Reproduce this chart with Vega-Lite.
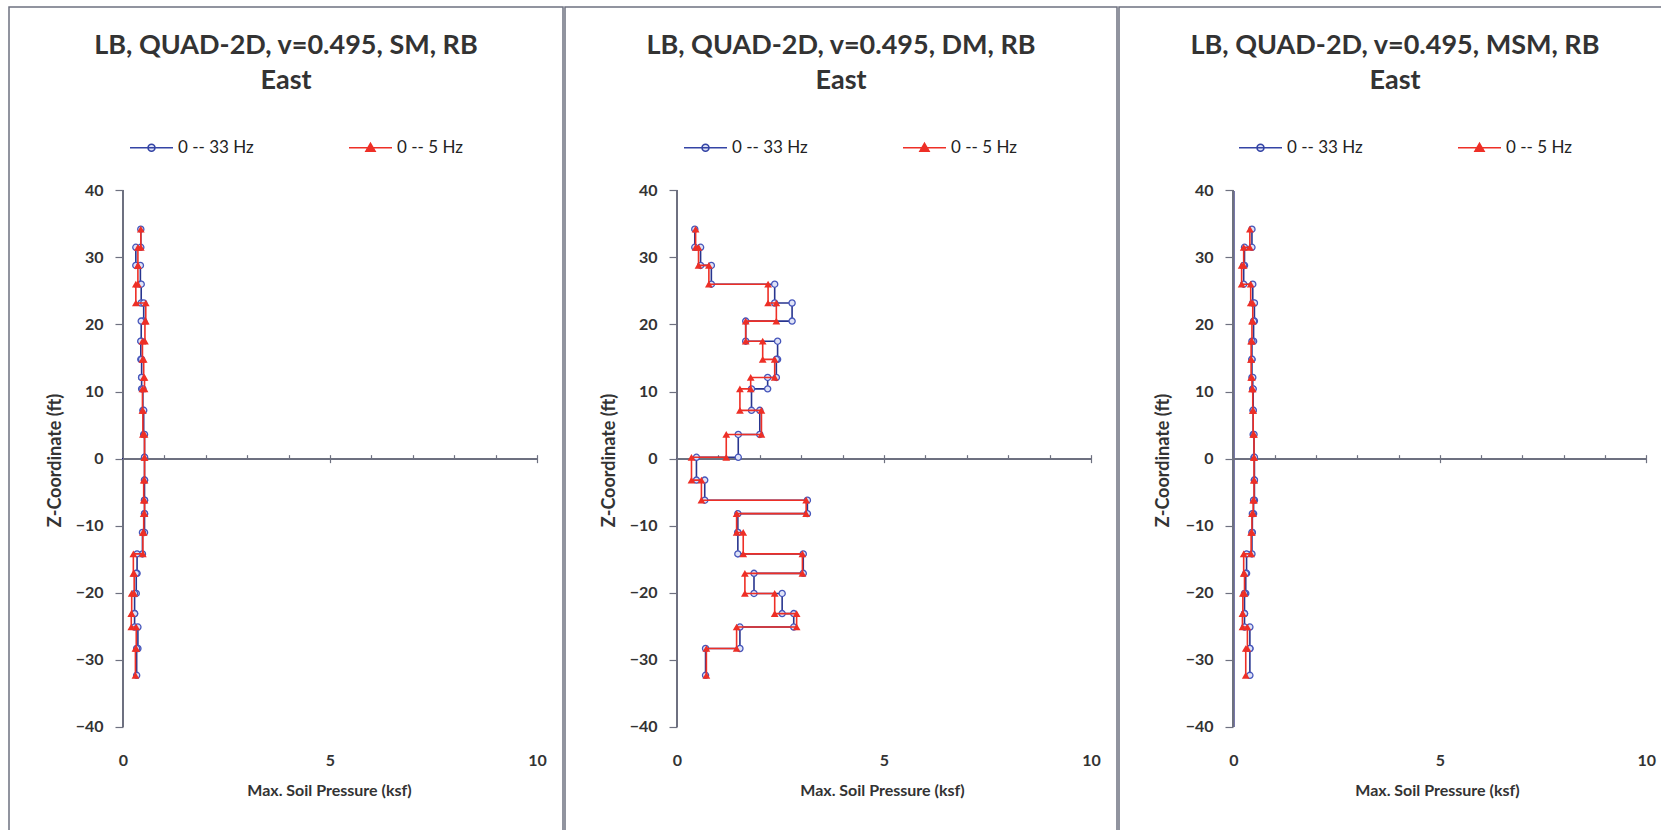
{
  "$schema": "https://vega.github.io/schema/vega-lite/v6.json",
  "background": "white",
  "padding": {"left": 8, "top": 6, "right": 0, "bottom": 0},
  "spacing": 0,
  "config": {
    "view": {"stroke": "#6e7180", "strokeWidth": 1.5},
    "font": "Lato"
  },
  "datasets": {
    "sm": [
      {"s":"0 -- 33 Hz","i":0,"x":0.43,"z":34.2},{"s":"0 -- 33 Hz","i":1,"x":0.43,"z":31.5},
      {"s":"0 -- 33 Hz","i":2,"x":0.31,"z":31.5},{"s":"0 -- 33 Hz","i":3,"x":0.31,"z":28.8},
      {"s":"0 -- 33 Hz","i":4,"x":0.42,"z":28.8},{"s":"0 -- 33 Hz","i":5,"x":0.42,"z":26.0},
      {"s":"0 -- 33 Hz","i":6,"x":0.44,"z":26.0},{"s":"0 -- 33 Hz","i":7,"x":0.44,"z":23.2},
      {"s":"0 -- 33 Hz","i":8,"x":0.50,"z":23.2},{"s":"0 -- 33 Hz","i":9,"x":0.50,"z":20.5},
      {"s":"0 -- 33 Hz","i":10,"x":0.44,"z":20.5},{"s":"0 -- 33 Hz","i":11,"x":0.44,"z":17.5},
      {"s":"0 -- 33 Hz","i":12,"x":0.43,"z":17.5},{"s":"0 -- 33 Hz","i":13,"x":0.43,"z":14.8},
      {"s":"0 -- 33 Hz","i":14,"x":0.45,"z":14.8},{"s":"0 -- 33 Hz","i":15,"x":0.45,"z":12.1},
      {"s":"0 -- 33 Hz","i":16,"x":0.45,"z":12.1},{"s":"0 -- 33 Hz","i":17,"x":0.45,"z":10.4},
      {"s":"0 -- 33 Hz","i":18,"x":0.48,"z":10.4},{"s":"0 -- 33 Hz","i":19,"x":0.48,"z":7.2},
      {"s":"0 -- 33 Hz","i":20,"x":0.50,"z":7.2},{"s":"0 -- 33 Hz","i":21,"x":0.50,"z":3.6},
      {"s":"0 -- 33 Hz","i":22,"x":0.52,"z":3.6},{"s":"0 -- 33 Hz","i":23,"x":0.52,"z":0.2},
      {"s":"0 -- 33 Hz","i":24,"x":0.52,"z":0.2},{"s":"0 -- 33 Hz","i":25,"x":0.52,"z":-3.2},
      {"s":"0 -- 33 Hz","i":26,"x":0.52,"z":-3.2},{"s":"0 -- 33 Hz","i":27,"x":0.52,"z":-6.2},
      {"s":"0 -- 33 Hz","i":28,"x":0.52,"z":-6.2},{"s":"0 -- 33 Hz","i":29,"x":0.52,"z":-8.2},
      {"s":"0 -- 33 Hz","i":30,"x":0.52,"z":-8.2},{"s":"0 -- 33 Hz","i":31,"x":0.52,"z":-11.0},
      {"s":"0 -- 33 Hz","i":32,"x":0.47,"z":-11.0},{"s":"0 -- 33 Hz","i":33,"x":0.47,"z":-14.2},
      {"s":"0 -- 33 Hz","i":34,"x":0.34,"z":-14.2},{"s":"0 -- 33 Hz","i":35,"x":0.34,"z":-17.1},
      {"s":"0 -- 33 Hz","i":36,"x":0.32,"z":-17.1},{"s":"0 -- 33 Hz","i":37,"x":0.32,"z":-20.1},
      {"s":"0 -- 33 Hz","i":38,"x":0.28,"z":-20.1},{"s":"0 -- 33 Hz","i":39,"x":0.28,"z":-23.1},
      {"s":"0 -- 33 Hz","i":40,"x":0.28,"z":-23.1},{"s":"0 -- 33 Hz","i":41,"x":0.28,"z":-25.1},
      {"s":"0 -- 33 Hz","i":42,"x":0.36,"z":-25.1},{"s":"0 -- 33 Hz","i":43,"x":0.36,"z":-28.3},
      {"s":"0 -- 33 Hz","i":44,"x":0.33,"z":-28.3},{"s":"0 -- 33 Hz","i":45,"x":0.33,"z":-32.3},
      {"s":"0 -- 5 Hz","i":0,"x":0.43,"z":34.2},{"s":"0 -- 5 Hz","i":1,"x":0.43,"z":31.5},
      {"s":"0 -- 5 Hz","i":2,"x":0.36,"z":31.5},{"s":"0 -- 5 Hz","i":3,"x":0.36,"z":28.8},
      {"s":"0 -- 5 Hz","i":4,"x":0.36,"z":28.8},{"s":"0 -- 5 Hz","i":5,"x":0.36,"z":26.0},
      {"s":"0 -- 5 Hz","i":6,"x":0.31,"z":26.0},{"s":"0 -- 5 Hz","i":7,"x":0.31,"z":23.2},
      {"s":"0 -- 5 Hz","i":8,"x":0.55,"z":23.2},{"s":"0 -- 5 Hz","i":9,"x":0.55,"z":20.5},
      {"s":"0 -- 5 Hz","i":10,"x":0.53,"z":20.5},{"s":"0 -- 5 Hz","i":11,"x":0.53,"z":17.5},
      {"s":"0 -- 5 Hz","i":12,"x":0.47,"z":17.5},{"s":"0 -- 5 Hz","i":13,"x":0.47,"z":14.8},
      {"s":"0 -- 5 Hz","i":14,"x":0.50,"z":14.8},{"s":"0 -- 5 Hz","i":15,"x":0.50,"z":12.1},
      {"s":"0 -- 5 Hz","i":16,"x":0.52,"z":12.1},{"s":"0 -- 5 Hz","i":17,"x":0.52,"z":10.4},
      {"s":"0 -- 5 Hz","i":18,"x":0.47,"z":10.4},{"s":"0 -- 5 Hz","i":19,"x":0.47,"z":7.2},
      {"s":"0 -- 5 Hz","i":20,"x":0.48,"z":7.2},{"s":"0 -- 5 Hz","i":21,"x":0.48,"z":3.6},
      {"s":"0 -- 5 Hz","i":22,"x":0.52,"z":3.6},{"s":"0 -- 5 Hz","i":23,"x":0.52,"z":0.2},
      {"s":"0 -- 5 Hz","i":24,"x":0.52,"z":0.2},{"s":"0 -- 5 Hz","i":25,"x":0.52,"z":-3.2},
      {"s":"0 -- 5 Hz","i":26,"x":0.50,"z":-3.2},{"s":"0 -- 5 Hz","i":27,"x":0.50,"z":-6.2},
      {"s":"0 -- 5 Hz","i":28,"x":0.52,"z":-6.2},{"s":"0 -- 5 Hz","i":29,"x":0.52,"z":-8.2},
      {"s":"0 -- 5 Hz","i":30,"x":0.50,"z":-8.2},{"s":"0 -- 5 Hz","i":31,"x":0.50,"z":-11.0},
      {"s":"0 -- 5 Hz","i":32,"x":0.48,"z":-11.0},{"s":"0 -- 5 Hz","i":33,"x":0.48,"z":-14.2},
      {"s":"0 -- 5 Hz","i":34,"x":0.25,"z":-14.2},{"s":"0 -- 5 Hz","i":35,"x":0.25,"z":-17.1},
      {"s":"0 -- 5 Hz","i":36,"x":0.27,"z":-17.1},{"s":"0 -- 5 Hz","i":37,"x":0.27,"z":-20.1},
      {"s":"0 -- 5 Hz","i":38,"x":0.21,"z":-20.1},{"s":"0 -- 5 Hz","i":39,"x":0.21,"z":-23.1},
      {"s":"0 -- 5 Hz","i":40,"x":0.20,"z":-23.1},{"s":"0 -- 5 Hz","i":41,"x":0.20,"z":-25.1},
      {"s":"0 -- 5 Hz","i":42,"x":0.32,"z":-25.1},{"s":"0 -- 5 Hz","i":43,"x":0.32,"z":-28.3},
      {"s":"0 -- 5 Hz","i":44,"x":0.30,"z":-28.3},{"s":"0 -- 5 Hz","i":45,"x":0.30,"z":-32.3}
    ],
    "dm": [
      {"s":"0 -- 33 Hz","i":0,"x":0.43,"z":34.2},{"s":"0 -- 33 Hz","i":1,"x":0.43,"z":31.5},
      {"s":"0 -- 33 Hz","i":2,"x":0.57,"z":31.5},{"s":"0 -- 33 Hz","i":3,"x":0.57,"z":28.8},
      {"s":"0 -- 33 Hz","i":4,"x":0.83,"z":28.8},{"s":"0 -- 33 Hz","i":5,"x":0.83,"z":26.0},
      {"s":"0 -- 33 Hz","i":6,"x":2.36,"z":26.0},{"s":"0 -- 33 Hz","i":7,"x":2.36,"z":23.2},
      {"s":"0 -- 33 Hz","i":8,"x":2.78,"z":23.2},{"s":"0 -- 33 Hz","i":9,"x":2.78,"z":20.5},
      {"s":"0 -- 33 Hz","i":10,"x":1.66,"z":20.5},{"s":"0 -- 33 Hz","i":11,"x":1.66,"z":17.5},
      {"s":"0 -- 33 Hz","i":12,"x":2.43,"z":17.5},{"s":"0 -- 33 Hz","i":13,"x":2.43,"z":14.8},
      {"s":"0 -- 33 Hz","i":14,"x":2.40,"z":14.8},{"s":"0 -- 33 Hz","i":15,"x":2.40,"z":12.1},
      {"s":"0 -- 33 Hz","i":16,"x":2.19,"z":12.1},{"s":"0 -- 33 Hz","i":17,"x":2.19,"z":10.4},
      {"s":"0 -- 33 Hz","i":18,"x":1.80,"z":10.4},{"s":"0 -- 33 Hz","i":19,"x":1.80,"z":7.2},
      {"s":"0 -- 33 Hz","i":20,"x":2.00,"z":7.2},{"s":"0 -- 33 Hz","i":21,"x":2.00,"z":3.6},
      {"s":"0 -- 33 Hz","i":22,"x":1.48,"z":3.6},{"s":"0 -- 33 Hz","i":23,"x":1.48,"z":0.2},
      {"s":"0 -- 33 Hz","i":24,"x":0.47,"z":0.2},{"s":"0 -- 33 Hz","i":25,"x":0.47,"z":-3.2},
      {"s":"0 -- 33 Hz","i":26,"x":0.67,"z":-3.2},{"s":"0 -- 33 Hz","i":27,"x":0.67,"z":-6.2},
      {"s":"0 -- 33 Hz","i":28,"x":3.15,"z":-6.2},{"s":"0 -- 33 Hz","i":29,"x":3.15,"z":-8.2},
      {"s":"0 -- 33 Hz","i":30,"x":1.47,"z":-8.2},{"s":"0 -- 33 Hz","i":31,"x":1.47,"z":-11.0},
      {"s":"0 -- 33 Hz","i":32,"x":1.47,"z":-11.0},{"s":"0 -- 33 Hz","i":33,"x":1.47,"z":-14.2},
      {"s":"0 -- 33 Hz","i":34,"x":3.05,"z":-14.2},{"s":"0 -- 33 Hz","i":35,"x":3.05,"z":-17.1},
      {"s":"0 -- 33 Hz","i":36,"x":1.86,"z":-17.1},{"s":"0 -- 33 Hz","i":37,"x":1.86,"z":-20.1},
      {"s":"0 -- 33 Hz","i":38,"x":2.54,"z":-20.1},{"s":"0 -- 33 Hz","i":39,"x":2.54,"z":-23.1},
      {"s":"0 -- 33 Hz","i":40,"x":2.82,"z":-23.1},{"s":"0 -- 33 Hz","i":41,"x":2.82,"z":-25.1},
      {"s":"0 -- 33 Hz","i":42,"x":1.52,"z":-25.1},{"s":"0 -- 33 Hz","i":43,"x":1.52,"z":-28.3},
      {"s":"0 -- 33 Hz","i":44,"x":0.69,"z":-28.3},{"s":"0 -- 33 Hz","i":45,"x":0.69,"z":-32.3},
      {"s":"0 -- 5 Hz","i":0,"x":0.45,"z":34.2},{"s":"0 -- 5 Hz","i":1,"x":0.45,"z":31.5},
      {"s":"0 -- 5 Hz","i":2,"x":0.52,"z":31.5},{"s":"0 -- 5 Hz","i":3,"x":0.52,"z":28.8},
      {"s":"0 -- 5 Hz","i":4,"x":0.77,"z":28.8},{"s":"0 -- 5 Hz","i":5,"x":0.77,"z":26.0},
      {"s":"0 -- 5 Hz","i":6,"x":2.20,"z":26.0},{"s":"0 -- 5 Hz","i":7,"x":2.20,"z":23.2},
      {"s":"0 -- 5 Hz","i":8,"x":2.40,"z":23.2},{"s":"0 -- 5 Hz","i":9,"x":2.40,"z":20.5},
      {"s":"0 -- 5 Hz","i":10,"x":1.66,"z":20.5},{"s":"0 -- 5 Hz","i":11,"x":1.66,"z":17.5},
      {"s":"0 -- 5 Hz","i":12,"x":2.07,"z":17.5},{"s":"0 -- 5 Hz","i":13,"x":2.07,"z":14.8},
      {"s":"0 -- 5 Hz","i":14,"x":2.36,"z":14.8},{"s":"0 -- 5 Hz","i":15,"x":2.36,"z":12.1},
      {"s":"0 -- 5 Hz","i":16,"x":1.78,"z":12.1},{"s":"0 -- 5 Hz","i":17,"x":1.78,"z":10.4},
      {"s":"0 -- 5 Hz","i":18,"x":1.52,"z":10.4},{"s":"0 -- 5 Hz","i":19,"x":1.52,"z":7.2},
      {"s":"0 -- 5 Hz","i":20,"x":2.04,"z":7.2},{"s":"0 -- 5 Hz","i":21,"x":2.04,"z":3.6},
      {"s":"0 -- 5 Hz","i":22,"x":1.19,"z":3.6},{"s":"0 -- 5 Hz","i":23,"x":1.19,"z":0.2},
      {"s":"0 -- 5 Hz","i":24,"x":0.35,"z":0.2},{"s":"0 -- 5 Hz","i":25,"x":0.35,"z":-3.2},
      {"s":"0 -- 5 Hz","i":26,"x":0.59,"z":-3.2},{"s":"0 -- 5 Hz","i":27,"x":0.59,"z":-6.2},
      {"s":"0 -- 5 Hz","i":28,"x":3.12,"z":-6.2},{"s":"0 -- 5 Hz","i":29,"x":3.12,"z":-8.2},
      {"s":"0 -- 5 Hz","i":30,"x":1.44,"z":-8.2},{"s":"0 -- 5 Hz","i":31,"x":1.44,"z":-11.0},
      {"s":"0 -- 5 Hz","i":32,"x":1.60,"z":-11.0},{"s":"0 -- 5 Hz","i":33,"x":1.60,"z":-14.2},
      {"s":"0 -- 5 Hz","i":34,"x":3.03,"z":-14.2},{"s":"0 -- 5 Hz","i":35,"x":3.03,"z":-17.1},
      {"s":"0 -- 5 Hz","i":36,"x":1.64,"z":-17.1},{"s":"0 -- 5 Hz","i":37,"x":1.64,"z":-20.1},
      {"s":"0 -- 5 Hz","i":38,"x":2.36,"z":-20.1},{"s":"0 -- 5 Hz","i":39,"x":2.36,"z":-23.1},
      {"s":"0 -- 5 Hz","i":40,"x":2.89,"z":-23.1},{"s":"0 -- 5 Hz","i":41,"x":2.89,"z":-25.1},
      {"s":"0 -- 5 Hz","i":42,"x":1.44,"z":-25.1},{"s":"0 -- 5 Hz","i":43,"x":1.44,"z":-28.3},
      {"s":"0 -- 5 Hz","i":44,"x":0.71,"z":-28.3},{"s":"0 -- 5 Hz","i":45,"x":0.71,"z":-32.3}
    ],
    "msm": [
      {"s":"0 -- 33 Hz","i":0,"x":0.45,"z":34.2},{"s":"0 -- 33 Hz","i":1,"x":0.45,"z":31.5},
      {"s":"0 -- 33 Hz","i":2,"x":0.27,"z":31.5},{"s":"0 -- 33 Hz","i":3,"x":0.27,"z":28.8},
      {"s":"0 -- 33 Hz","i":4,"x":0.25,"z":28.8},{"s":"0 -- 33 Hz","i":5,"x":0.25,"z":26.0},
      {"s":"0 -- 33 Hz","i":6,"x":0.47,"z":26.0},{"s":"0 -- 33 Hz","i":7,"x":0.47,"z":23.2},
      {"s":"0 -- 33 Hz","i":8,"x":0.51,"z":23.2},{"s":"0 -- 33 Hz","i":9,"x":0.51,"z":20.5},
      {"s":"0 -- 33 Hz","i":10,"x":0.49,"z":20.5},{"s":"0 -- 33 Hz","i":11,"x":0.49,"z":17.5},
      {"s":"0 -- 33 Hz","i":12,"x":0.45,"z":17.5},{"s":"0 -- 33 Hz","i":13,"x":0.45,"z":14.8},
      {"s":"0 -- 33 Hz","i":14,"x":0.45,"z":14.8},{"s":"0 -- 33 Hz","i":15,"x":0.45,"z":12.1},
      {"s":"0 -- 33 Hz","i":16,"x":0.47,"z":12.1},{"s":"0 -- 33 Hz","i":17,"x":0.47,"z":10.4},
      {"s":"0 -- 33 Hz","i":18,"x":0.48,"z":10.4},{"s":"0 -- 33 Hz","i":19,"x":0.48,"z":7.2},
      {"s":"0 -- 33 Hz","i":20,"x":0.48,"z":7.2},{"s":"0 -- 33 Hz","i":21,"x":0.48,"z":3.6},
      {"s":"0 -- 33 Hz","i":22,"x":0.50,"z":3.6},{"s":"0 -- 33 Hz","i":23,"x":0.50,"z":0.2},
      {"s":"0 -- 33 Hz","i":24,"x":0.51,"z":0.2},{"s":"0 -- 33 Hz","i":25,"x":0.51,"z":-3.2},
      {"s":"0 -- 33 Hz","i":26,"x":0.51,"z":-3.2},{"s":"0 -- 33 Hz","i":27,"x":0.51,"z":-6.2},
      {"s":"0 -- 33 Hz","i":28,"x":0.49,"z":-6.2},{"s":"0 -- 33 Hz","i":29,"x":0.49,"z":-8.2},
      {"s":"0 -- 33 Hz","i":30,"x":0.46,"z":-8.2},{"s":"0 -- 33 Hz","i":31,"x":0.46,"z":-11.0},
      {"s":"0 -- 33 Hz","i":32,"x":0.45,"z":-11.0},{"s":"0 -- 33 Hz","i":33,"x":0.45,"z":-14.2},
      {"s":"0 -- 33 Hz","i":34,"x":0.32,"z":-14.2},{"s":"0 -- 33 Hz","i":35,"x":0.32,"z":-17.1},
      {"s":"0 -- 33 Hz","i":36,"x":0.30,"z":-17.1},{"s":"0 -- 33 Hz","i":37,"x":0.30,"z":-20.1},
      {"s":"0 -- 33 Hz","i":38,"x":0.27,"z":-20.1},{"s":"0 -- 33 Hz","i":39,"x":0.27,"z":-23.1},
      {"s":"0 -- 33 Hz","i":40,"x":0.27,"z":-23.1},{"s":"0 -- 33 Hz","i":41,"x":0.27,"z":-25.1},
      {"s":"0 -- 33 Hz","i":42,"x":0.40,"z":-25.1},{"s":"0 -- 33 Hz","i":43,"x":0.40,"z":-28.3},
      {"s":"0 -- 33 Hz","i":44,"x":0.40,"z":-28.3},{"s":"0 -- 33 Hz","i":45,"x":0.40,"z":-32.3},
      {"s":"0 -- 5 Hz","i":0,"x":0.40,"z":34.2},{"s":"0 -- 5 Hz","i":1,"x":0.40,"z":31.5},
      {"s":"0 -- 5 Hz","i":2,"x":0.25,"z":31.5},{"s":"0 -- 5 Hz","i":3,"x":0.25,"z":28.8},
      {"s":"0 -- 5 Hz","i":4,"x":0.20,"z":28.8},{"s":"0 -- 5 Hz","i":5,"x":0.20,"z":26.0},
      {"s":"0 -- 5 Hz","i":6,"x":0.42,"z":26.0},{"s":"0 -- 5 Hz","i":7,"x":0.42,"z":23.2},
      {"s":"0 -- 5 Hz","i":8,"x":0.47,"z":23.2},{"s":"0 -- 5 Hz","i":9,"x":0.47,"z":20.5},
      {"s":"0 -- 5 Hz","i":10,"x":0.45,"z":20.5},{"s":"0 -- 5 Hz","i":11,"x":0.45,"z":17.5},
      {"s":"0 -- 5 Hz","i":12,"x":0.43,"z":17.5},{"s":"0 -- 5 Hz","i":13,"x":0.43,"z":14.8},
      {"s":"0 -- 5 Hz","i":14,"x":0.43,"z":14.8},{"s":"0 -- 5 Hz","i":15,"x":0.43,"z":12.1},
      {"s":"0 -- 5 Hz","i":16,"x":0.45,"z":12.1},{"s":"0 -- 5 Hz","i":17,"x":0.45,"z":10.4},
      {"s":"0 -- 5 Hz","i":18,"x":0.47,"z":10.4},{"s":"0 -- 5 Hz","i":19,"x":0.47,"z":7.2},
      {"s":"0 -- 5 Hz","i":20,"x":0.48,"z":7.2},{"s":"0 -- 5 Hz","i":21,"x":0.48,"z":3.6},
      {"s":"0 -- 5 Hz","i":22,"x":0.50,"z":3.6},{"s":"0 -- 5 Hz","i":23,"x":0.50,"z":0.2},
      {"s":"0 -- 5 Hz","i":24,"x":0.50,"z":0.2},{"s":"0 -- 5 Hz","i":25,"x":0.50,"z":-3.2},
      {"s":"0 -- 5 Hz","i":26,"x":0.50,"z":-3.2},{"s":"0 -- 5 Hz","i":27,"x":0.50,"z":-6.2},
      {"s":"0 -- 5 Hz","i":28,"x":0.48,"z":-6.2},{"s":"0 -- 5 Hz","i":29,"x":0.48,"z":-8.2},
      {"s":"0 -- 5 Hz","i":30,"x":0.45,"z":-8.2},{"s":"0 -- 5 Hz","i":31,"x":0.45,"z":-11.0},
      {"s":"0 -- 5 Hz","i":32,"x":0.43,"z":-11.0},{"s":"0 -- 5 Hz","i":33,"x":0.43,"z":-14.2},
      {"s":"0 -- 5 Hz","i":34,"x":0.25,"z":-14.2},{"s":"0 -- 5 Hz","i":35,"x":0.25,"z":-17.1},
      {"s":"0 -- 5 Hz","i":36,"x":0.27,"z":-17.1},{"s":"0 -- 5 Hz","i":37,"x":0.27,"z":-20.1},
      {"s":"0 -- 5 Hz","i":38,"x":0.23,"z":-20.1},{"s":"0 -- 5 Hz","i":39,"x":0.23,"z":-23.1},
      {"s":"0 -- 5 Hz","i":40,"x":0.22,"z":-23.1},{"s":"0 -- 5 Hz","i":41,"x":0.22,"z":-25.1},
      {"s":"0 -- 5 Hz","i":42,"x":0.34,"z":-25.1},{"s":"0 -- 5 Hz","i":43,"x":0.34,"z":-28.3},
      {"s":"0 -- 5 Hz","i":44,"x":0.30,"z":-28.3},{"s":"0 -- 5 Hz","i":45,"x":0.30,"z":-32.3}
    ]
  },
  "hconcat": [
    {
      "width": 554, "height": 830,
      "data": {"name": "sm"},
      "title": {"text": ["LB, QUAD-2D, v=0.495, SM, RB", "East"], "font": "Lato", "fontSize": 27, "fontWeight": "bold", "color": "#333333", "lineHeight": 35, "baseline": "bottom", "offset": -115, "anchor": "middle"},
      "layer": [
        {
          "mark": {"type": "rule", "color": "#6e7180", "strokeWidth": 1.3},
          "encoding": {
            "x": {"datum": 0, "type": "quantitative", "scale": {"domain": [-2.7536, 10.628], "nice": false, "zero": false},
              "axis": {"orient": "bottom", "offset": -85, "values": [0, 5, 10], "domain": false, "ticks": false, "tickSize": 0, "grid": false, "labelPadding": 0, "labelFont": "Lato", "labelFontSize": 16, "labelFontWeight": "bold", "labelColor": "#333333", "title": "Max. Soil Pressure (ksf)", "titleFont": "Lato", "titleFontSize": 16, "titleFontWeight": "bold", "titleColor": "#333333", "titleX": 320, "titleY": 43, "titleAlign": "center", "titleBaseline": "alphabetic"}},
            "y": {"datum": -40, "type": "quantitative", "scale": {"domain": [-56.40, 67.32], "nice": false, "zero": false},
              "axis": {"orient": "left", "offset": -114, "values": [-40, -30, -20, -10, 0, 10, 20, 30, 40], "domain": false, "ticks": true, "tickSize": 8, "tickColor": "#6e7180", "tickWidth": 1.2, "grid": false, "labelPadding": 12, "labelFont": "Lato", "labelFontSize": 16, "labelFontWeight": "bold", "labelColor": "#333333", "title": "Z-Coordinate (ft)", "titleFont": "Lato", "titleFontSize": 18, "titleFontWeight": "bold", "titleColor": "#333333", "titleX": -63, "titleY": 453, "titleAngle": -90, "titleAlign": "center", "titleBaseline": "alphabetic"}},
            "y2": {"datum": 40}
          }
        },
        {
          "mark": {"type": "rule", "color": "#6e7180", "strokeWidth": 1.3},
          "encoding": {
            "x": {"datum": 0, "type": "quantitative", "scale": {"domain": [-2.7536, 10.628], "nice": false, "zero": false},
              "axis": {"orient": "top", "offset": -451.65, "values": [1, 2, 3, 4, 6, 7, 8, 9], "domain": false, "labels": false, "ticks": true, "tickSize": 4, "tickColor": "#6e7180", "tickWidth": 1.2, "grid": false, "title": null}},
            "x2": {"datum": 10},
            "y": {"datum": 0, "type": "quantitative", "scale": {"domain": [-56.40, 67.32], "nice": false, "zero": false}, "axis": null}
          }
        },
        {
          "transform": [{"filter": "datum.s === '0 -- 33 Hz'"}],
          "mark": {"type": "line", "color": "#28358f", "strokeWidth": 1.6},
          "encoding": {
            "x": {"field": "x", "type": "quantitative", "scale": {"domain": [-2.7536, 10.628], "nice": false, "zero": false},
              "axis": {"orient": "top", "offset": -455.65, "values": [5, 10], "domain": false, "labels": false, "ticks": true, "tickSize": 8, "tickColor": "#6e7180", "tickWidth": 1.2, "grid": false, "title": null}},
            "y": {"field": "z", "type": "quantitative", "scale": {"domain": [-56.40, 67.32], "nice": false, "zero": false}, "axis": null},
            "order": {"field": "i", "type": "quantitative"}
          }
        },
        {
          "transform": [{"filter": "datum.s === '0 -- 33 Hz'"}],
          "mark": {"type": "point", "shape": "circle", "size": 38, "filled": true, "fill": "#dfe3f7", "stroke": "#4656bb", "strokeWidth": 1.3, "opacity": 1},
          "encoding": {
            "x": {"field": "x", "type": "quantitative", "axis": null},
            "y": {"field": "z", "type": "quantitative", "axis": null}
          }
        },
        {
          "transform": [{"filter": "datum.s === '0 -- 5 Hz'"}],
          "mark": {"type": "line", "color": "#ee2f26", "strokeWidth": 1.6},
          "encoding": {
            "x": {"field": "x", "type": "quantitative", "axis": null},
            "y": {"field": "z", "type": "quantitative", "axis": null},
            "order": {"field": "i", "type": "quantitative"}
          }
        },
        {
          "transform": [{"filter": "datum.s === '0 -- 5 Hz'"}],
          "mark": {"type": "point", "shape": "triangle-up", "size": 60, "filled": true, "fill": "#ee2f26", "strokeWidth": 0, "opacity": 1},
          "encoding": {
            "x": {"field": "x", "type": "quantitative", "axis": null},
            "y": {"field": "z", "type": "quantitative", "axis": null}
          }
        },
        {
          "data": {"values": []},
          "mark": {"type": "point", "filled": true, "strokeWidth": 1.6, "opacity": 1},
          "encoding": {
            "shape": {"field": "s", "type": "nominal", "scale": {"domain": ["0 -- 33 Hz", "0 -- 5 Hz"], "range": ["M-1,0L1,0M-0.16,0A0.16,0.16,0,1,1,0.16,0A0.16,0.16,0,1,1,-0.16,0Z", "M-1,0L1,0M0,-0.2L0.21,0.16L-0.21,0.16Z"]},
              "legend": {"title": null, "orient": "none", "legendX": 120, "legendY": 118, "direction": "horizontal", "columns": 2, "columnPadding": 91, "padding": 0, "symbolSize": 1849, "symbolStrokeWidth": 1.6, "symbolOpacity": 1, "labelOffset": 4, "labelFont": "Lato", "labelFontSize": 17, "labelColor": "#222222"}},
            "fill": {"field": "s", "type": "nominal", "scale": {"domain": ["0 -- 33 Hz", "0 -- 5 Hz"], "range": ["#dfe3f7", "#ee2f26"]},
              "legend": {"title": null, "orient": "none", "legendX": 120, "legendY": 118, "direction": "horizontal", "columns": 2, "columnPadding": 91, "padding": 0, "symbolSize": 1849, "symbolStrokeWidth": 1.6, "symbolOpacity": 1, "labelOffset": 4, "labelFont": "Lato", "labelFontSize": 17, "labelColor": "#222222"}},
            "stroke": {"field": "s", "type": "nominal", "scale": {"domain": ["0 -- 33 Hz", "0 -- 5 Hz"], "range": ["#3444a5", "#ee2f26"]},
              "legend": {"title": null, "orient": "none", "legendX": 120, "legendY": 118, "direction": "horizontal", "columns": 2, "columnPadding": 91, "padding": 0, "symbolSize": 1849, "symbolStrokeWidth": 1.6, "symbolOpacity": 1, "labelOffset": 4, "labelFont": "Lato", "labelFontSize": 17, "labelColor": "#222222"}}
          }
        }
      ],
      "resolve": {"axis": {"x": "independent", "y": "independent"}}
    },
    {
      "width": 552, "height": 830,
      "data": {"name": "dm"},
      "title": {"text": ["LB, QUAD-2D, v=0.495, DM, RB", "East"], "font": "Lato", "fontSize": 27, "fontWeight": "bold", "color": "#333333", "lineHeight": 35, "baseline": "bottom", "offset": -115, "anchor": "middle"},
      "layer": [
        {
          "mark": {"type": "rule", "color": "#6e7180", "strokeWidth": 1.3},
          "encoding": {
            "x": {"datum": 0, "type": "quantitative", "scale": {"domain": [-2.705, 10.628], "nice": false, "zero": false},
              "axis": {"orient": "bottom", "offset": -85, "values": [0, 5, 10], "domain": false, "ticks": false, "tickSize": 0, "grid": false, "labelPadding": 0, "labelFont": "Lato", "labelFontSize": 16, "labelFontWeight": "bold", "labelColor": "#333333", "title": "Max. Soil Pressure (ksf)", "titleFont": "Lato", "titleFontSize": 16, "titleFontWeight": "bold", "titleColor": "#333333", "titleX": 317, "titleY": 43, "titleAlign": "center", "titleBaseline": "alphabetic"}},
            "y": {"datum": -40, "type": "quantitative", "scale": {"domain": [-56.40, 67.32], "nice": false, "zero": false},
              "axis": {"orient": "left", "offset": -112, "values": [-40, -30, -20, -10, 0, 10, 20, 30, 40], "domain": false, "ticks": true, "tickSize": 8, "tickColor": "#6e7180", "tickWidth": 1.2, "grid": false, "labelPadding": 12, "labelFont": "Lato", "labelFontSize": 16, "labelFontWeight": "bold", "labelColor": "#333333", "title": "Z-Coordinate (ft)", "titleFont": "Lato", "titleFontSize": 18, "titleFontWeight": "bold", "titleColor": "#333333", "titleX": -63, "titleY": 453, "titleAngle": -90, "titleAlign": "center", "titleBaseline": "alphabetic"}},
            "y2": {"datum": 40}
          }
        },
        {
          "mark": {"type": "rule", "color": "#6e7180", "strokeWidth": 1.3},
          "encoding": {
            "x": {"datum": 0, "type": "quantitative", "scale": {"domain": [-2.705, 10.628], "nice": false, "zero": false},
              "axis": {"orient": "top", "offset": -451.65, "values": [1, 2, 3, 4, 6, 7, 8, 9], "domain": false, "labels": false, "ticks": true, "tickSize": 4, "tickColor": "#6e7180", "tickWidth": 1.2, "grid": false, "title": null}},
            "x2": {"datum": 10},
            "y": {"datum": 0, "type": "quantitative", "scale": {"domain": [-56.40, 67.32], "nice": false, "zero": false}, "axis": null}
          }
        },
        {
          "transform": [{"filter": "datum.s === '0 -- 33 Hz'"}],
          "mark": {"type": "line", "color": "#28358f", "strokeWidth": 1.6},
          "encoding": {
            "x": {"field": "x", "type": "quantitative", "scale": {"domain": [-2.705, 10.628], "nice": false, "zero": false},
              "axis": {"orient": "top", "offset": -455.65, "values": [5, 10], "domain": false, "labels": false, "ticks": true, "tickSize": 8, "tickColor": "#6e7180", "tickWidth": 1.2, "grid": false, "title": null}},
            "y": {"field": "z", "type": "quantitative", "scale": {"domain": [-56.40, 67.32], "nice": false, "zero": false}, "axis": null},
            "order": {"field": "i", "type": "quantitative"}
          }
        },
        {
          "transform": [{"filter": "datum.s === '0 -- 33 Hz'"}],
          "mark": {"type": "point", "shape": "circle", "size": 38, "filled": true, "fill": "#dfe3f7", "stroke": "#4656bb", "strokeWidth": 1.3, "opacity": 1},
          "encoding": {
            "x": {"field": "x", "type": "quantitative", "axis": null},
            "y": {"field": "z", "type": "quantitative", "axis": null}
          }
        },
        {
          "transform": [{"filter": "datum.s === '0 -- 5 Hz'"}],
          "mark": {"type": "line", "color": "#ee2f26", "strokeWidth": 1.6},
          "encoding": {
            "x": {"field": "x", "type": "quantitative", "axis": null},
            "y": {"field": "z", "type": "quantitative", "axis": null},
            "order": {"field": "i", "type": "quantitative"}
          }
        },
        {
          "transform": [{"filter": "datum.s === '0 -- 5 Hz'"}],
          "mark": {"type": "point", "shape": "triangle-up", "size": 60, "filled": true, "fill": "#ee2f26", "strokeWidth": 0, "opacity": 1},
          "encoding": {
            "x": {"field": "x", "type": "quantitative", "axis": null},
            "y": {"field": "z", "type": "quantitative", "axis": null}
          }
        },
        {
          "data": {"values": []},
          "mark": {"type": "point", "filled": true, "strokeWidth": 1.6, "opacity": 1},
          "encoding": {
            "shape": {"field": "s", "type": "nominal", "scale": {"domain": ["0 -- 33 Hz", "0 -- 5 Hz"], "range": ["M-1,0L1,0M-0.16,0A0.16,0.16,0,1,1,0.16,0A0.16,0.16,0,1,1,-0.16,0Z", "M-1,0L1,0M0,-0.2L0.21,0.16L-0.21,0.16Z"]},
              "legend": {"title": null, "orient": "none", "legendX": 118, "legendY": 118, "direction": "horizontal", "columns": 2, "columnPadding": 91, "padding": 0, "symbolSize": 1849, "symbolStrokeWidth": 1.6, "symbolOpacity": 1, "labelOffset": 4, "labelFont": "Lato", "labelFontSize": 17, "labelColor": "#222222"}},
            "fill": {"field": "s", "type": "nominal", "scale": {"domain": ["0 -- 33 Hz", "0 -- 5 Hz"], "range": ["#dfe3f7", "#ee2f26"]},
              "legend": {"title": null, "orient": "none", "legendX": 118, "legendY": 118, "direction": "horizontal", "columns": 2, "columnPadding": 91, "padding": 0, "symbolSize": 1849, "symbolStrokeWidth": 1.6, "symbolOpacity": 1, "labelOffset": 4, "labelFont": "Lato", "labelFontSize": 17, "labelColor": "#222222"}},
            "stroke": {"field": "s", "type": "nominal", "scale": {"domain": ["0 -- 33 Hz", "0 -- 5 Hz"], "range": ["#3444a5", "#ee2f26"]},
              "legend": {"title": null, "orient": "none", "legendX": 118, "legendY": 118, "direction": "horizontal", "columns": 2, "columnPadding": 91, "padding": 0, "symbolSize": 1849, "symbolStrokeWidth": 1.6, "symbolOpacity": 1, "labelOffset": 4, "labelFont": "Lato", "labelFontSize": 17, "labelColor": "#222222"}}
          }
        }
      ],
      "resolve": {"axis": {"x": "independent", "y": "independent"}}
    },
    {
      "width": 552, "height": 830,
      "data": {"name": "msm"},
      "title": {"text": ["LB, QUAD-2D, v=0.495, MSM, RB", "East"], "font": "Lato", "fontSize": 27, "fontWeight": "bold", "color": "#333333", "lineHeight": 35, "baseline": "bottom", "offset": -115, "anchor": "middle"},
      "layer": [
        {
          "mark": {"type": "rule", "color": "#6e7180", "strokeWidth": 1.3},
          "encoding": {
            "x": {"datum": 0, "type": "quantitative", "scale": {"domain": [-2.77, 10.60], "nice": false, "zero": false},
              "axis": {"orient": "bottom", "offset": -85, "values": [0, 5, 10], "domain": false, "ticks": false, "tickSize": 0, "grid": false, "labelPadding": 0, "labelFont": "Lato", "labelFontSize": 16, "labelFontWeight": "bold", "labelColor": "#333333", "title": "Max. Soil Pressure (ksf)", "titleFont": "Lato", "titleFontSize": 16, "titleFontWeight": "bold", "titleColor": "#333333", "titleX": 318, "titleY": 43, "titleAlign": "center", "titleBaseline": "alphabetic"}},
            "y": {"datum": -40, "type": "quantitative", "scale": {"domain": [-56.40, 67.32], "nice": false, "zero": false},
              "axis": {"orient": "left", "offset": -114, "values": [-40, -30, -20, -10, 0, 10, 20, 30, 40], "domain": false, "ticks": true, "tickSize": 8, "tickColor": "#6e7180", "tickWidth": 1.2, "grid": false, "labelPadding": 12, "labelFont": "Lato", "labelFontSize": 16, "labelFontWeight": "bold", "labelColor": "#333333", "title": "Z-Coordinate (ft)", "titleFont": "Lato", "titleFontSize": 18, "titleFontWeight": "bold", "titleColor": "#333333", "titleX": -65, "titleY": 453, "titleAngle": -90, "titleAlign": "center", "titleBaseline": "alphabetic"}},
            "y2": {"datum": 40}
          }
        },
        {
          "mark": {"type": "rule", "color": "#6e7180", "strokeWidth": 1.3},
          "encoding": {
            "x": {"datum": 0, "type": "quantitative", "scale": {"domain": [-2.77, 10.60], "nice": false, "zero": false},
              "axis": {"orient": "top", "offset": -451.65, "values": [1, 2, 3, 4, 6, 7, 8, 9], "domain": false, "labels": false, "ticks": true, "tickSize": 4, "tickColor": "#6e7180", "tickWidth": 1.2, "grid": false, "title": null}},
            "x2": {"datum": 10},
            "y": {"datum": 0, "type": "quantitative", "scale": {"domain": [-56.40, 67.32], "nice": false, "zero": false}, "axis": null}
          }
        },
        {
          "transform": [{"filter": "datum.s === '0 -- 33 Hz'"}],
          "mark": {"type": "line", "color": "#28358f", "strokeWidth": 1.6},
          "encoding": {
            "x": {"field": "x", "type": "quantitative", "scale": {"domain": [-2.77, 10.60], "nice": false, "zero": false},
              "axis": {"orient": "top", "offset": -455.65, "values": [5, 10], "domain": false, "labels": false, "ticks": true, "tickSize": 8, "tickColor": "#6e7180", "tickWidth": 1.2, "grid": false, "title": null}},
            "y": {"field": "z", "type": "quantitative", "scale": {"domain": [-56.40, 67.32], "nice": false, "zero": false}, "axis": null},
            "order": {"field": "i", "type": "quantitative"}
          }
        },
        {
          "transform": [{"filter": "datum.s === '0 -- 33 Hz'"}],
          "mark": {"type": "point", "shape": "circle", "size": 38, "filled": true, "fill": "#dfe3f7", "stroke": "#4656bb", "strokeWidth": 1.3, "opacity": 1},
          "encoding": {
            "x": {"field": "x", "type": "quantitative", "axis": null},
            "y": {"field": "z", "type": "quantitative", "axis": null}
          }
        },
        {
          "transform": [{"filter": "datum.s === '0 -- 5 Hz'"}],
          "mark": {"type": "line", "color": "#ee2f26", "strokeWidth": 1.6},
          "encoding": {
            "x": {"field": "x", "type": "quantitative", "axis": null},
            "y": {"field": "z", "type": "quantitative", "axis": null},
            "order": {"field": "i", "type": "quantitative"}
          }
        },
        {
          "transform": [{"filter": "datum.s === '0 -- 5 Hz'"}],
          "mark": {"type": "point", "shape": "triangle-up", "size": 60, "filled": true, "fill": "#ee2f26", "strokeWidth": 0, "opacity": 1},
          "encoding": {
            "x": {"field": "x", "type": "quantitative", "axis": null},
            "y": {"field": "z", "type": "quantitative", "axis": null}
          }
        },
        {
          "data": {"values": []},
          "mark": {"type": "point", "filled": true, "strokeWidth": 1.6, "opacity": 1},
          "encoding": {
            "shape": {"field": "s", "type": "nominal", "scale": {"domain": ["0 -- 33 Hz", "0 -- 5 Hz"], "range": ["M-1,0L1,0M-0.16,0A0.16,0.16,0,1,1,0.16,0A0.16,0.16,0,1,1,-0.16,0Z", "M-1,0L1,0M0,-0.2L0.21,0.16L-0.21,0.16Z"]},
              "legend": {"title": null, "orient": "none", "legendX": 119, "legendY": 118, "direction": "horizontal", "columns": 2, "columnPadding": 91, "padding": 0, "symbolSize": 1849, "symbolStrokeWidth": 1.6, "symbolOpacity": 1, "labelOffset": 4, "labelFont": "Lato", "labelFontSize": 17, "labelColor": "#222222"}},
            "fill": {"field": "s", "type": "nominal", "scale": {"domain": ["0 -- 33 Hz", "0 -- 5 Hz"], "range": ["#dfe3f7", "#ee2f26"]},
              "legend": {"title": null, "orient": "none", "legendX": 119, "legendY": 118, "direction": "horizontal", "columns": 2, "columnPadding": 91, "padding": 0, "symbolSize": 1849, "symbolStrokeWidth": 1.6, "symbolOpacity": 1, "labelOffset": 4, "labelFont": "Lato", "labelFontSize": 17, "labelColor": "#222222"}},
            "stroke": {"field": "s", "type": "nominal", "scale": {"domain": ["0 -- 33 Hz", "0 -- 5 Hz"], "range": ["#3444a5", "#ee2f26"]},
              "legend": {"title": null, "orient": "none", "legendX": 119, "legendY": 118, "direction": "horizontal", "columns": 2, "columnPadding": 91, "padding": 0, "symbolSize": 1849, "symbolStrokeWidth": 1.6, "symbolOpacity": 1, "labelOffset": 4, "labelFont": "Lato", "labelFontSize": 17, "labelColor": "#222222"}}
          }
        }
      ],
      "resolve": {"axis": {"x": "independent", "y": "independent"}}
    }
  ],
  "resolve": {
    "scale": {"x": "independent", "y": "independent", "shape": "independent", "fill": "independent", "stroke": "independent"},
    "legend": {"shape": "independent", "fill": "independent", "stroke": "independent"}
  }
}
